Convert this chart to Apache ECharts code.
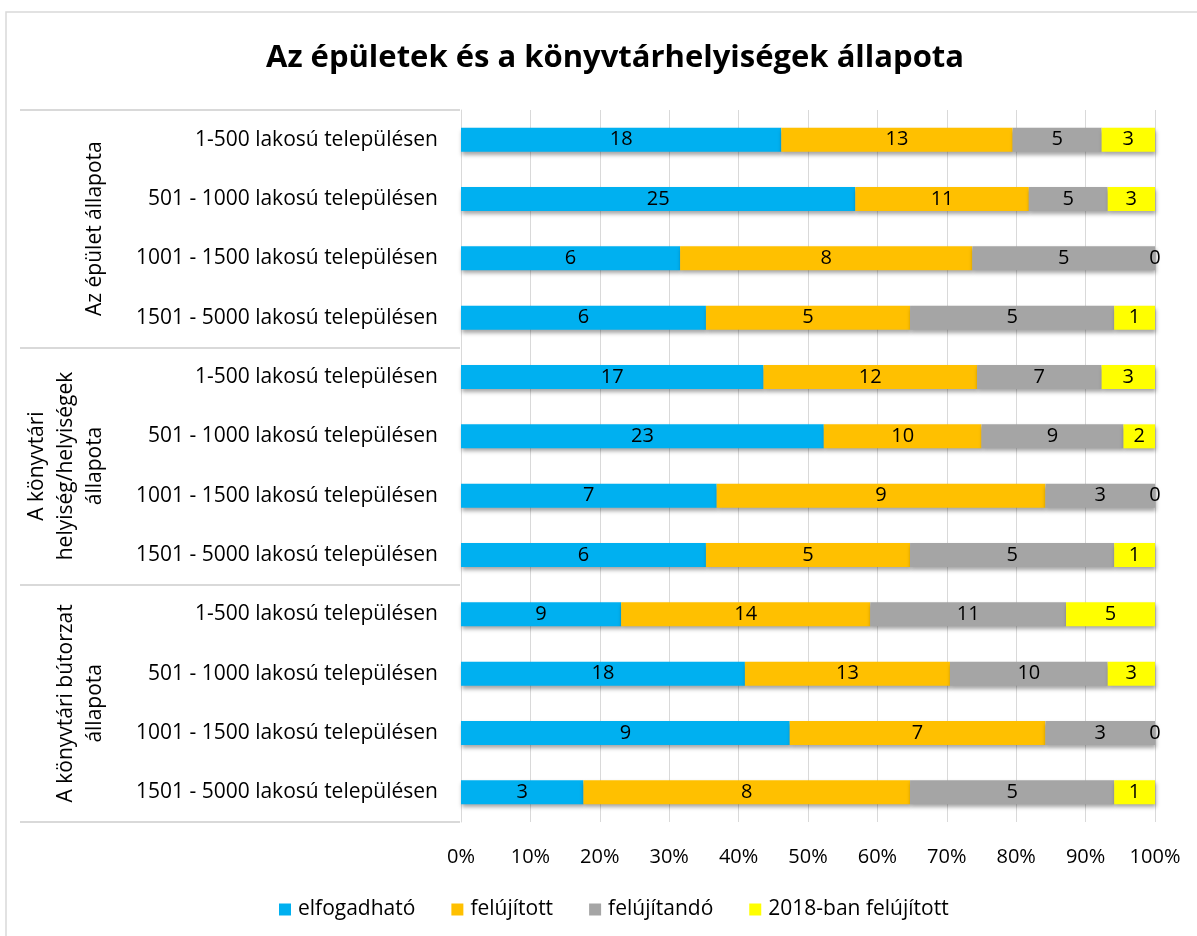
<!DOCTYPE html>
<html>
<head>
<meta charset="utf-8">
<script src="https://cdn.jsdelivr.net/npm/echarts@6/dist/echarts.min.js"></script>
<style>
  html, body { margin: 0; padding: 0; background: #fff; }
  #chart { width: 1197px; height: 936px; }
</style>
</head>
<body>
<div id="chart"></div>
<script>
// sorok (felülről lefelé)
const rowLabels = [
  '1-500 lakosú településen', '501 - 1000 lakosú településen',
  '1001 - 1500 lakosú településen', '1501 - 5000 lakosú településen',
  '1-500 lakosú településen ', '501 - 1000 lakosú településen ',
  '1001 - 1500 lakosú településen ', '1501 - 5000 lakosú településen ',
  '1-500 lakosú településen  ', '501 - 1000 lakosú településen  ',
  '1001 - 1500 lakosú településen  ', '1501 - 5000 lakosú településen  '
]
const groupLabels = [
  'Az épület állapota',
  'A könyvtári\nhelyiség/helyiségek\nállapota',
  'A könyvtári bútorzat\nállapota'
]
const seriesNames = ['elfogadható', 'felújított', 'felújítandó', '2018-ban felújított']
const colors = ['#00B0F0', '#FFC000', '#A5A5A5', '#FFFF00']

const elfogadhato = [18, 25, 6, 6, 17, 23, 7, 6, 9, 18, 9, 3]
const felujitott = [13, 11, 8, 5, 12, 10, 9, 5, 14, 13, 7, 8]
const felujitando = [5, 5, 5, 5, 7, 9, 3, 5, 11, 10, 3, 5]
const felujitott2018 = [3, 3, 0, 1, 3, 2, 0, 1, 5, 3, 0, 1]

const xTicks = [0, 10, 20, 30, 40, 50, 60, 70, 80, 90, 100]

const valueArr = [elfogadhato, felujitott, felujitando, felujitott2018]
const totals = rowLabels.map((_, i) => valueArr.reduce((s, arr) => s + arr[i], 0))

const font = 'Open Sans'
const fs = 21
const chart = echarts.init(document.getElementById('chart'))

const series = valueArr.map((arr, k) => {
  return {
    name: seriesNames[k],
    type: 'bar',
    stack: 'all',
    barWidth: 24,
    yAxisIndex: 0,
    itemStyle: {
      color: colors[k],
      shadowColor: 'rgba(0, 0, 0, 0.35)',
      shadowBlur: 4,
      shadowOffsetX: 1,
      shadowOffsetY: 3
    },
    label: {
      show: true,
      position: 'inside',
      color: '#000',
      fontFamily: font,
      fontSize: 20,
      formatter: (p) => p.data.raw
    },
    data: arr.map((v, i) => ({ value: (v / totals[i]) * 100, raw: v }))
  }
})

const option = {
  animation: false,
  backgroundColor: '#fff',
  title: {
    text: 'Az épületek és a könyvtárhelyiségek állapota',
    left: 261,
    top: 38,
    textStyle: { fontFamily: font, fontSize: 31, fontWeight: 'bold', color: '#000' }
  },
  legend: {
    data: seriesNames,
    left: 274,
    top: 894,
    icon: 'rect',
    itemWidth: 12,
    itemHeight: 12,
    itemGap: 36,
    textStyle: { fontFamily: font, fontSize: fs, color: '#000', padding: [0, 0, 0, 2] }
  },
  grid: { left: 461, right: 42, top: 110, height: 712 },
  xAxis: {
    type: 'value',
    min: xTicks[0],
    max: xTicks[xTicks.length - 1],
    interval: 10,
    axisLine: { show: false },
    axisTick: { show: false },
    splitLine: { lineStyle: { color: '#D9D9D9', width: 1 } },
    axisLabel: {
      formatter: '{value}%',
      margin: 25,
      color: '#000',
      fontFamily: font,
      fontSize: 20
    }
  },
  yAxis: [
    {
      type: 'category',
      data: rowLabels,
      inverse: true,
      axisLine: { show: true, lineStyle: { color: '#D9D9D9' } },
      axisTick: { show: false },
      axisLabel: {
        margin: 23,
        interval: 0,
        color: '#000',
        fontFamily: font,
        fontSize: fs,
        formatter: (v) => v.trim()
      }
    },
    {
      // csoport feliratok
      type: 'category',
      data: groupLabels,
      inverse: true,
      position: 'left',
      offset: 347,
      axisLine: { show: false },
      axisTick: { show: false },
      axisLabel: {
        rotate: 90,
        interval: 0,
        margin: 4,
        color: '#000',
        fontFamily: font,
        fontSize: fs,
        lineHeight: 29
      }
    },
    {
      // csoport elválasztó vonalak
      type: 'category',
      data: groupLabels,
      inverse: true,
      position: 'left',
      offset: 441,
      axisLine: { show: false },
      axisLabel: { show: false },
      axisTick: {
        show: true,
        inside: true,
        length: 440,
        interval: 0,
        lineStyle: { color: '#D9D9D9', width: 2 }
      }
    }
  ],
  graphic: [
    {
      type: 'rect',
      shape: { x: 6, y: 12, width: 1200, height: 940 },
      style: { fill: 'none', stroke: '#D9D9D9', lineWidth: 1.5 },
      silent: true
    }
  ],
  series
}

chart.setOption(option)
</script>
</body>
</html>
